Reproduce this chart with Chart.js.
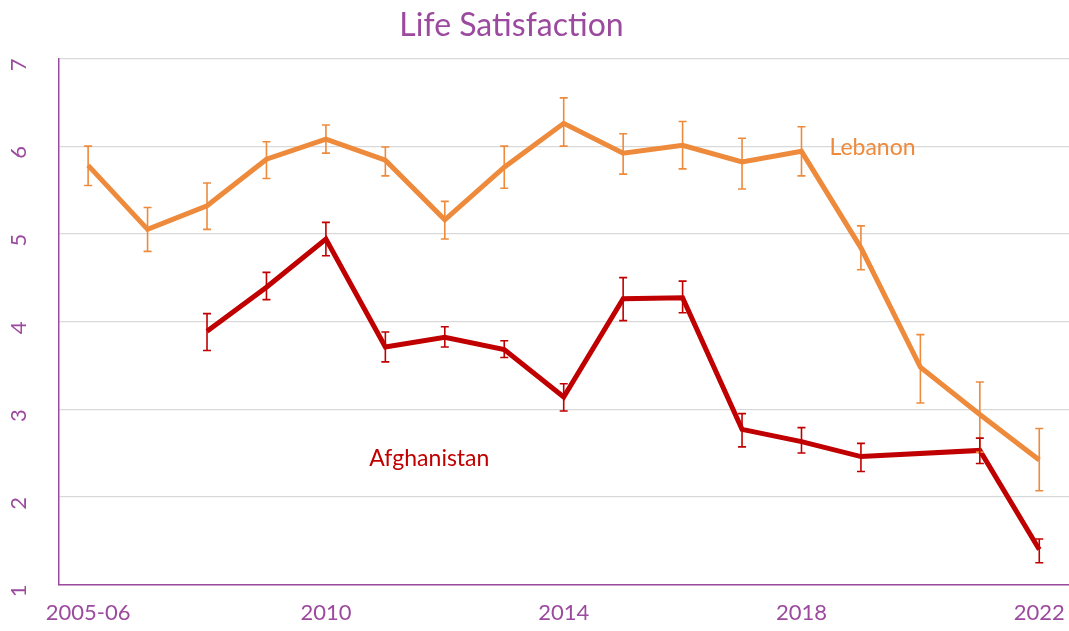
<!DOCTYPE html>
<html>
<head>
<meta charset="utf-8">
<script src="https://cdn.jsdelivr.net/npm/chart.js@4/dist/chart.umd.min.js"></script>
<style>
    html, body { margin: 0; padding: 0; background: #fff; }
    #wrap { position: relative; width: 1069px; height: 631px; }
</style>
</head>
<body>
<div id="wrap"><canvas id="chart"></canvas></div>
<script>
// dados
const years = ["2005-06", "2007", "2008", "2009", "2010", "2011", "2012", "2013", "2014",
    "2015", "2016", "2017", "2018", "2019", "2020", "2021", "2022"];
const shownYears = ["2005-06", "2010", "2014", "2018", "2022"];
const yTicks = [1, 2, 3, 4, 5, 6, 7];

const lebanon = [5.78, 5.05, 5.32, 5.85, 6.08, 5.84, 5.16, 5.76, 6.26, 5.92, 6.01, 5.82, 5.94, 4.84, 3.48, 2.94, 2.42];
const lebanonHigh = [6.0, 5.3, 5.58, 6.05, 6.24, 5.99, 5.37, 6.0, 6.55, 6.14, 6.28, 6.09, 6.22, 5.09, 3.85, 3.31, 2.78];
const lebanonLow = [5.55, 4.8, 5.05, 5.63, 5.92, 5.66, 4.94, 5.52, 6.0, 5.68, 5.74, 5.51, 5.66, 4.59, 3.07, 2.51, 2.07];

const afghanistan = [null, null, 3.89, 4.39, 4.94, 3.71, 3.82, 3.68, 3.14, 4.26, 4.27, 2.77, 2.63, 2.46, null, 2.53, 1.40];
const afghanistanHigh = [null, null, 4.09, 4.56, 5.13, 3.88, 3.94, 3.78, 3.29, 4.5, 4.46, 2.95, 2.79, 2.61, null, 2.67, 1.52];
const afghanistanLow = [null, null, 3.67, 4.25, 4.75, 3.54, 3.71, 3.59, 2.98, 4.01, 4.10, 2.57, 2.5, 2.29, null, 2.38, 1.25];

const purple = "#9c4a9e";
const orange = "#ee8a3c";
const red = "#c00000";

// barras de erro
const errorBars = {
    id: "errorBars",
    afterDatasetsDraw(chart) {
        const ctx = chart.ctx;
        const x = chart.scales.x;
        const y = chart.scales.y;
        chart.data.datasets.forEach(function (ds) {
            ctx.save();
            ctx.strokeStyle = ds.borderColor;
            ctx.lineWidth = 1.6;
            ds.high.forEach(function (hi, i) {
                const lo = ds.low[i];
                if (hi == null || lo == null) return;
                const px = x.getPixelForValue(i);
                const top = y.getPixelForValue(hi);
                const bot = y.getPixelForValue(lo);
                ctx.beginPath();
                ctx.moveTo(px, top); ctx.lineTo(px, bot);
                ctx.moveTo(px - 4, top); ctx.lineTo(px + 4, top);
                ctx.moveTo(px - 4, bot); ctx.lineTo(px + 4, bot);
                ctx.stroke();
            });
            ctx.restore();
        });
    }
};

// nomes dos paises dentro do grafico
const seriesLabels = {
    id: "seriesLabels",
    afterDraw(chart) {
        const ctx = chart.ctx;
        const x = chart.scales.x;
        const y = chart.scales.y;
        ctx.save();
        ctx.font = "23px Lato";
        ctx.textAlign = "left";
        ctx.textBaseline = "middle";
        ctx.fillStyle = orange;
        ctx.fillText("Lebanon", x.getPixelForValue(12.47), y.getPixelForValue(5.98));
        ctx.fillStyle = red;
        ctx.fillText("Afghanistan", x.getPixelForValue(4.73), y.getPixelForValue(2.44));
        ctx.restore();
    }
};

const ctx = document.getElementById("chart").getContext("2d");
const myChart = new Chart(ctx, {
    type: "line",
    data: {
        labels: years,
        datasets: [
            {
                label: "Lebanon",
                data: lebanon,
                high: lebanonHigh,
                low: lebanonLow,
                borderColor: orange,
                backgroundColor: orange,
                borderWidth: 5,
                pointRadius: 0,
                tension: 0,
            },
            {
                label: "Afghanistan",
                data: afghanistan,
                high: afghanistanHigh,
                low: afghanistanLow,
                borderColor: red,
                backgroundColor: red,
                borderWidth: 5,
                pointRadius: 0,
                tension: 0,
                spanGaps: true,
            },
        ],
    },
    options: {
        responsive: true,
        maintainAspectRatio: false,
        animation: false,
        layout: {
            padding: { top: 0, right: 0, bottom: -10, left: -46 }
        },
        scales: {
            x: {
                offset: true,
                grid: { display: false, drawTicks: false },
                border: { color: purple, width: 1.5 },
                afterFit: function (scale) {
                    // sem margem extra para os rotulos das pontas
                    scale.paddingLeft = 0;
                    scale.paddingRight = 0;
                },
                ticks: {
                    autoSkip: false,
                    maxRotation: 0,
                    padding: 15,
                    color: purple,
                    font: { family: "Lato", size: 22 },
                    callback: function (val, i) {
                        return shownYears.includes(years[i]) ? years[i] : "";
                    }
                }
            },
            y: {
                min: 1,
                max: 7,
                afterBuildTicks: function (scale) {
                    scale.ticks = yTicks.map(v => ({ value: v }));
                },
                afterFit: function (scale) {
                    scale.paddingTop = 0;
                    scale.paddingBottom = 0;
                },
                grid: { color: "#d9d9d9", lineWidth: 1.2, drawTicks: false },
                border: { color: purple, width: 1.5 },
                ticks: {
                    minRotation: 90,
                    maxRotation: 90,
                    padding: 39,
                    color: purple,
                    font: { family: "Lato", size: 22 },
                }
            }
        },
        plugins: {
            legend: { display: false },
            tooltip: { enabled: false },
            title: {
                display: true,
                text: "Life Satisfaction",
                color: purple,
                font: { family: "Lato", size: 32, weight: "normal" },
                padding: { top: 6, bottom: 14 }
            }
        }
    },
    plugins: [errorBars, seriesLabels]
});
</script>
</body>
</html>
